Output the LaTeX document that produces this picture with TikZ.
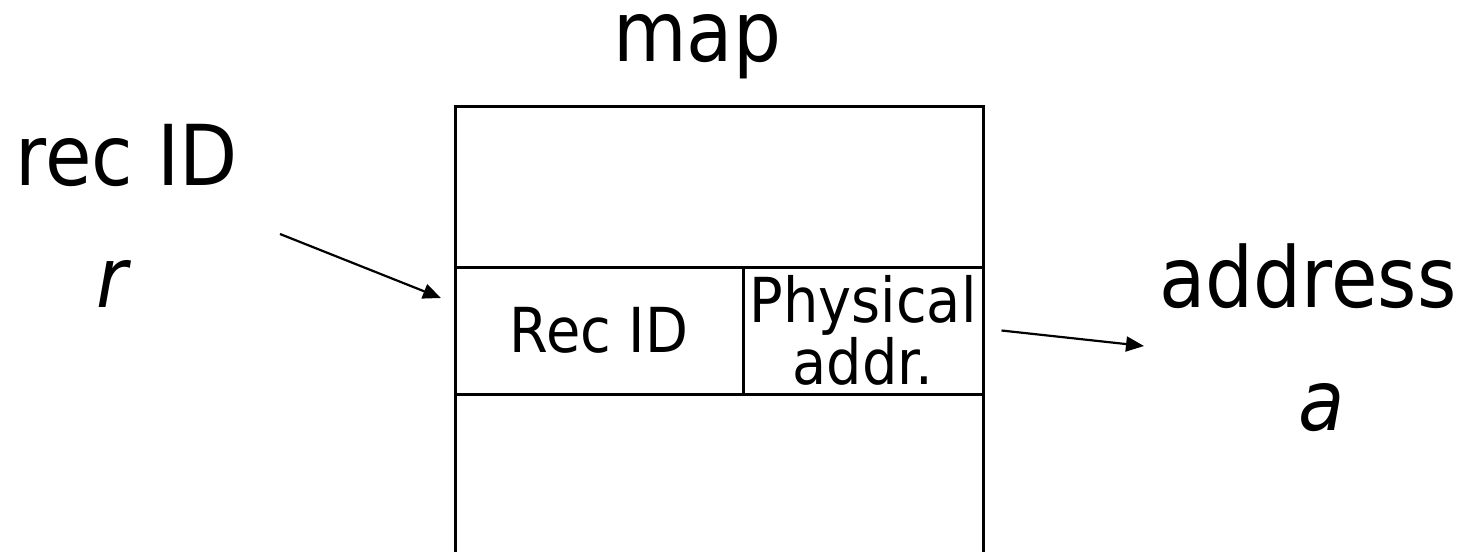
\documentclass[tikz,border=0pt]{standalone}
\usepackage{fontspec}
\setmainfont{DejaVu Sans}[FakeStretch=0.9]
\usetikzlibrary{arrows.meta,positioning}

\tikzset{
  cell/.style={draw=black,line width=1.5pt,inner sep=0pt,font=\fontsize{31}{24}\selectfont,align=center},
  biglbl/.style={inner sep=0pt,anchor=base,font=\fontsize{42}{50}\selectfont},
  ptr/.style={line width=1.1pt,-{Triangle[length=9pt,width=7.5pt]}}
}

\begin{document}
\begin{tikzpicture}[x=0.5pt,y=-0.5pt]
\useasboundingbox (0,0) rectangle (1460,551);
% the map table
\node[cell,minimum width=264pt,minimum height=80pt] (toprow) at (719,187) {};
\node[cell,minimum width=144pt,minimum height=63.5pt] (recid) at (599,330.5) {Rec ID};
\node[cell,minimum width=120pt,minimum height=63.5pt] (phys) at (863,330.5) {Physical\\addr.};
\node[cell,minimum width=264pt,minimum height=85pt] (botrow) at (719,479) {};
% labels
\node[biglbl] (maplbl) at (697,62) {map};
\node[biglbl] (recin) at (127,185) {rec ID};
\node[biglbl] (rvar) at (112,307) {\itshape r};
\node[biglbl] (addrout) at (1308,307) {address};
\node[biglbl] (avar) at (1322,430) {\itshape a};
% pointers
\coordinate (rtail) at (280,234);
\coordinate (rhead) at (441,298);
\coordinate (ahead) at (1144,346);
\draw[ptr] (rtail) -- (rhead);
\draw[ptr] ([xshift=8.5pt]phys.east) -- (ahead);
\end{tikzpicture}
\end{document}
